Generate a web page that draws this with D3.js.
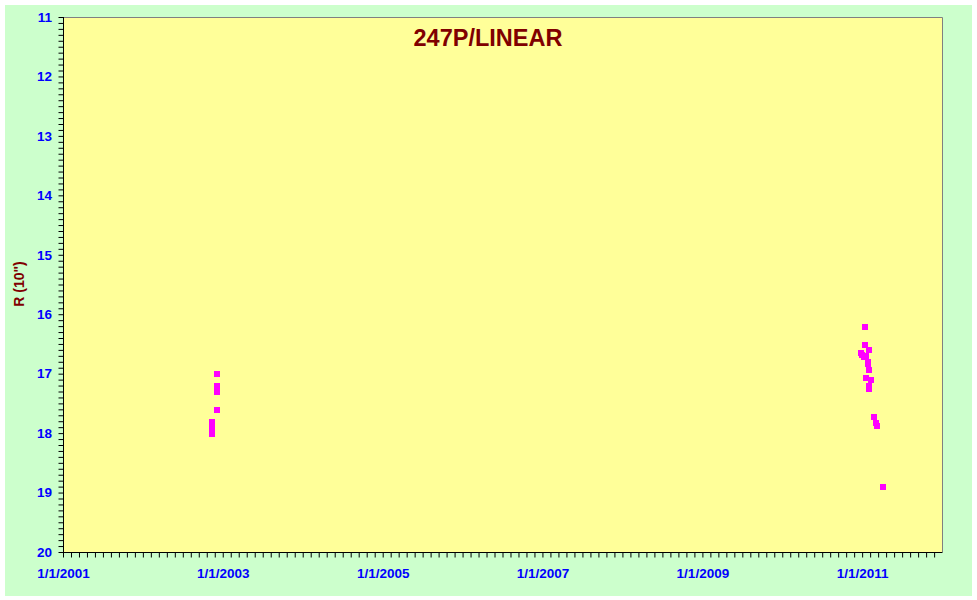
<!DOCTYPE html>
<html><head><meta charset="utf-8">
<script src="https://cdn.jsdelivr.net/npm/d3@7"></script>
<style>body{margin:0;background:#fff}svg{display:block}</style>
</head><body>
<script>
const title = "247P/LINEAR";
const yTitle = 'R (10")';
const dates = ["2002-11-12","2002-11-12","2002-11-12","2002-11-12",
  "2002-12-05","2002-12-05","2002-12-05","2002-12-05","2002-12-05",
  "2011-01-13","2011-01-13","2011-02-01","2010-12-26","2010-12-31","2011-01-09","2011-01-18","2011-01-26","2011-01-28",
  "2011-02-01","2011-01-18","2011-02-10","2011-02-01","2011-02-01",
  "2011-02-22","2011-03-04","2011-03-08","2011-04-05"];
const mags = [17.81,17.86,17.91,18.01,
  17.01,17.20,17.25,17.31,17.61,
  16.22,16.52,16.60,16.65,16.68,16.72,16.70,16.80,16.84,
  16.94,17.07,17.10,17.21,17.26,
  17.73,17.83,17.88,18.91];
const xTickLabels = ["1/1/2001","1/1/2003","1/1/2005","1/1/2007","1/1/2009","1/1/2011"];
const yTicks = [11,12,13,14,15,16,17,18,19,20];

const W = 977, H = 600;
const m = {l:63, t:17, r:942, b:552};
const svg = d3.select("body").append("svg").attr("width",W).attr("height",H);
svg.append("rect").attr("x",5).attr("y",5).attr("width",967).attr("height",591).attr("fill","#CCFFCC");
svg.append("rect").attr("x",m.l).attr("y",m.t).attr("width",m.r-m.l).attr("height",m.b-m.t).attr("fill","#FFFF99");

const parse = d3.utcParse("%Y-%m-%d");
const x = d3.scaleUtc().domain([Date.UTC(2001,0,1), Date.UTC(2012,0,1)]).range([m.l, m.r]);
const y = d3.scaleLinear().domain([11,20]).range([m.t, m.b]);

svg.append("path").attr("d",`M${m.l},${m.t+0.5}H${m.r+0.5}V${m.b}`).attr("fill","none").attr("stroke","#808080");

const majorX = xTickLabels.map(s=>{const p=s.split("/");return Date.UTC(+p[2],+p[0]-1,+p[1]);});
const xMinor = [];
for (let i=0;i<majorX.length;i++){
  const a = majorX[i], b = i+1<majorX.length ? majorX[i+1] : Date.UTC(2013,0,1);
  for (let k=0;k<20;k++){const t=a+(b-a)*k/20; if (t<=Date.UTC(2012,0,1)+1) xMinor.push(t);}
}
const yMinor = d3.range(110,201).map(v=>v/10);

const xAxis = d3.axisBottom(x).tickValues(xMinor).tickSize(5).tickFormat("");
const gx = svg.append("g").attr("transform",`translate(0,${m.b+0.5})`).call(xAxis);
gx.select(".domain").attr("d",`M${m.l},0H${m.r+0.5}`);
gx.selectAll("line").attr("stroke","#000");
const gxl = svg.append("g").attr("transform",`translate(0,${m.b})`)
  .call(d3.axisBottom(x).tickValues(majorX).tickSize(0).tickPadding(16).tickFormat((d,i)=>xTickLabels[i]));
gxl.select(".domain").remove();
gxl.selectAll("text").attr("fill","#0000FF").style("font","bold 13.5px 'Liberation Sans', Arial, sans-serif");

const yAxis = d3.axisLeft(y).tickValues(yMinor).tickSize(5).tickFormat("");
const gy = svg.append("g").attr("transform",`translate(${m.l+0.5},0)`).call(yAxis);
gy.select(".domain").attr("d",`M0,${m.t}V${m.b+0.5}`);
gy.selectAll("line").attr("stroke","#000");
const gyl = svg.append("g").attr("transform",`translate(${m.l},0)`)
  .call(d3.axisLeft(y).tickValues(yTicks).tickSize(0).tickPadding(11).tickFormat(d3.format("d")));
gyl.select(".domain").remove();
gyl.selectAll("text").attr("fill","#0000FF").style("font","bold 13.5px 'Liberation Sans', Arial, sans-serif");

svg.append("g").selectAll("rect").data(dates.map((d,i)=>({d:parse(d),v:mags[i]}))).join("rect")
  .attr("x",d=>Math.round(x(d.d))-3).attr("y",d=>Math.round(y(d.v))-3)
  .attr("width",6).attr("height",6).attr("fill","#FF00FF");

svg.append("text").attr("x",488).attr("y",46).attr("text-anchor","middle")
  .attr("fill","#800000").style("font","bold 23.5px 'Liberation Sans', Arial, sans-serif").text(title);
svg.append("text").attr("transform","translate(24,284) rotate(-90)").attr("text-anchor","middle")
  .attr("fill","#800000").style("font","bold 14px 'Liberation Sans', Arial, sans-serif").text(yTitle);
</script>
</body></html>
